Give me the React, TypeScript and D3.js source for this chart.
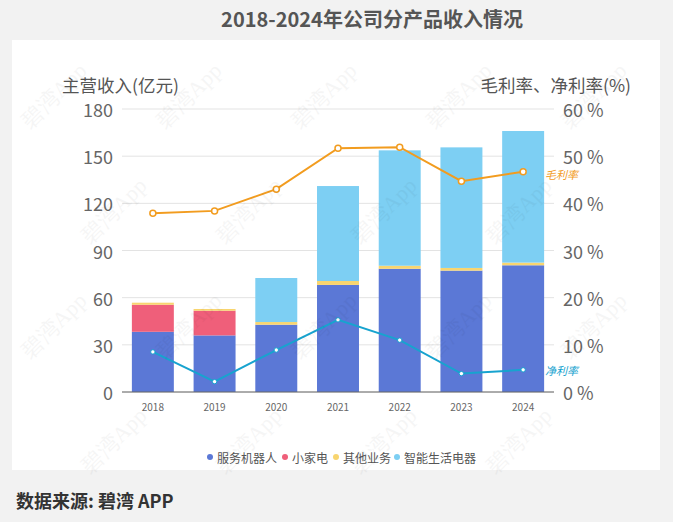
import React from 'react';
import * as d3 from 'd3';

const years = ['2018', '2019', '2020', '2021', '2022', '2023', '2024'];
const robot = [38.3, 36.0, 42.8, 68.1, 78.4, 77.2, 80.6];
const appliance = [17.2, 15.7, 0, 0, 0, 0, 0];
const other = [1.3, 1.1, 1.7, 2.5, 1.9, 1.7, 1.7];
const smartLife = [0, 0, 28.0, 60.4, 73.4, 76.7, 83.7];
const grossMargin = [37.9, 38.4, 43.0, 51.7, 51.9, 44.7, 46.7];
const netMargin = [8.5, 2.2, 8.9, 15.3, 11.0, 3.9, 4.7];
const leftTicks = [0, 30, 60, 90, 120, 150, 180];
const rightTicks = [0, 10, 20, 30, 40, 50, 60];

const seriesNames = ['服务机器人', '小家电', '其他业务', '智能生活电器'];
const colors = ['#5b78d6', '#ef5f7a', '#f8d56f', '#7dcff3'];

const W = 673;
const H = 522;
const font = '"Noto Sans CJK SC", "Noto Sans", sans-serif';

const App = () => {
  const x = d3.scaleBand().domain(years).range([122, 554]).paddingInner(0.32).paddingOuter(0.16);
  const y = d3.scaleLinear().domain([0, 180]).range([392, 109]);
  const yr = d3.scaleLinear().domain([0, 60]).range([392, 109]);

  const table = years.map((yy, i) => ({
    year: yy,
    robot: robot[i],
    appliance: appliance[i],
    other: other[i],
    smartLife: smartLife[i],
  }));
  const keys = ['robot', 'appliance', 'other', 'smartLife'];
  const stacked = d3.stack().keys(keys)(table as any);

  const cx = (yy: string) => (x(yy) as number) + x.bandwidth() / 2;
  const line = d3.line<number>().x((_, i) => cx(years[i])).y((d) => yr(d));

  // faint diagonal watermark, kept inside the canvas
  const marks: [number, number][] = [];
  for (let r = 0; r < 4; r++) {
    for (let c = 0; c < 5; c++) {
      const mx = 30 + c * 135 + (r % 2) * 60;
      const my = 130 + r * 115;
      if (mx + 80 < W) marks.push([mx, my]);
    }
  }

  const legendX = [210, 285, 336, 397];

  return (
    <svg width={W} height={H} style={{ position: 'absolute', left: 0, top: 0 }} fontFamily={font}>
      <rect width={W} height={H} fill="#f2f2f2" />
      <rect x={12} y={40} width={648} height={430} fill="#ffffff" />
      <text x={372} y={18} textAnchor="middle" dominantBaseline="central" fontSize={20} fontWeight="bold" fill="#555">
        2018-2024年公司分产品收入情况
      </text>

      {/* grid */}
      {leftTicks.map((t) => (
        <line key={t} x1={122} x2={554} y1={y(t)} y2={y(t)} stroke="#e3e3e3" strokeWidth={1} />
      ))}

      {/* stacked bars */}
      {stacked.map((s, si) => (
        <g key={si} fill={colors[si]}>
          {s.map((d, i) =>
            d[1] - d[0] > 0 ? (
              <rect
                key={i}
                x={x(years[i])}
                y={y(d[1])}
                width={x.bandwidth()}
                height={y(d[0]) - y(d[1])}
              />
            ) : null
          )}
        </g>
      ))}

      {/* x axis */}
      <line x1={122} x2={554} y1={392} y2={392} stroke="#666" strokeWidth={1} />
      {years.map((yy) => (
        <text key={yy} x={cx(yy)} y={406} textAnchor="middle" dominantBaseline="central" fontSize={10} fill="#666">
          {yy}
        </text>
      ))}

      {/* left axis */}
      {leftTicks.map((t) => (
        <text key={t} x={113} y={y(t)} textAnchor="end" dominantBaseline="central" fontSize={18} fill="#666">
          {t}
        </text>
      ))}
      <text x={62} y={84} dominantBaseline="central" fontSize={17.5} fill="#555">
        主营收入(亿元)
      </text>

      {/* right axis */}
      {rightTicks.map((t) => (
        <text key={t} x={563} y={yr(t)} dominantBaseline="central" fontSize={18} fill="#666">
          {t} %
        </text>
      ))}
      <text x={631} y={84} textAnchor="end" dominantBaseline="central" fontSize={17.5} fill="#555">
        毛利率、净利率(%)
      </text>

      {/* margin lines */}
      <path d={line(grossMargin) as string} fill="none" stroke="#f29c1f" strokeWidth={2} />
      {grossMargin.map((v, i) => (
        <circle key={i} cx={cx(years[i])} cy={yr(v)} r={3} fill="#fff" stroke="#f29c1f" strokeWidth={1.5} />
      ))}
      <path d={line(netMargin) as string} fill="none" stroke="#17a3cf" strokeWidth={2} />
      {netMargin.map((v, i) => (
        <circle key={i} cx={cx(years[i])} cy={yr(v)} r={2.2} fill="#fff" stroke="#17a3cf" strokeWidth={1} />
      ))}
      <text x={545} y={yr(grossMargin[6]) + 2} dominantBaseline="central" fontSize={11} fontStyle="italic" fill="#f29c1f">
        毛利率
      </text>
      <text x={545} y={yr(netMargin[6])} dominantBaseline="central" fontSize={11} fontStyle="italic" fill="#17a3cf">
        净利率
      </text>

      {/* legend */}
      {seriesNames.map((n, i) => (
        <g key={n}>
          <circle cx={legendX[i]} cy={457} r={3} fill={colors[i]} />
          <text x={legendX[i] + 7} y={457} dominantBaseline="central" fontSize={12} fill="#555">
            {n}
          </text>
        </g>
      ))}

      <text x={16} y={500} dominantBaseline="central" fontSize={18} fontWeight="bold" fill="#333">
        数据来源: 碧湾 APP
      </text>

      {/* watermark */}
      {marks.map(([mx, my], i) => (
        <text
          key={i}
          x={mx}
          y={my}
          transform={`rotate(-45 ${mx} ${my})`}
          fontSize={22}
          fontFamily="serif"
          fill="#000"
          opacity={0.035}
        >
          碧湾App
        </text>
      ))}
    </svg>
  );
};

export default App;
